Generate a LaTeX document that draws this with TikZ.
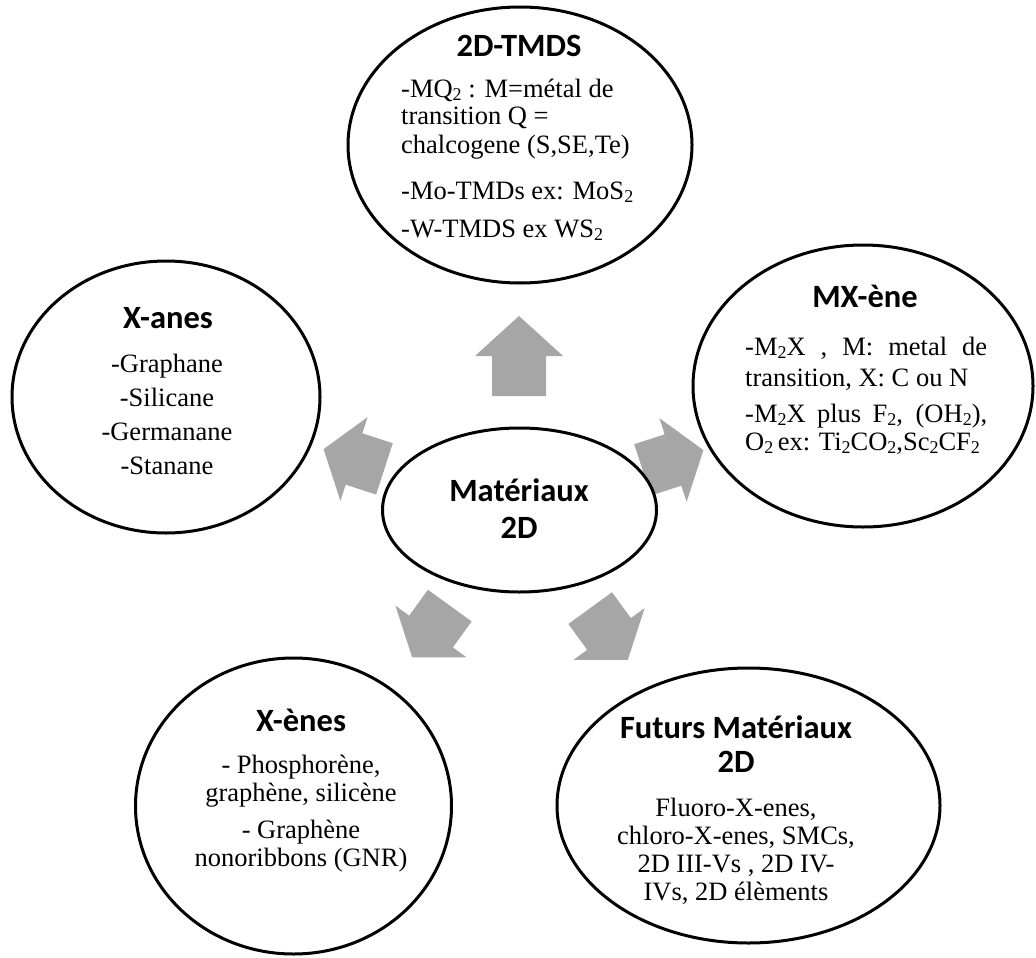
\documentclass[tikz,border=0pt]{standalone}
\usepackage{fontspec}
\setmainfont{Liberation Serif}
\newfontfamily\headfamily{Carlito}
\usetikzlibrary{shapes.geometric}
\definecolor{arrowgrey}{HTML}{A6A6A6}
\newcommand{\bodyfnt}{\fontsize{26.5}{28}\selectfont}
\newcommand{\headfnt}{\headfamily\bfseries\fontsize{32.5}{36}\selectfont}
% lowered small index, as in chemical formulas
\newcommand{\idx}[1]{\raisebox{-3.5pt}{\fontsize{18}{18}\selectfont #1}}
% block arrow: centre, angle, total length, head length
\newcommand{\blockarrow}[4]{%
  \fill[arrowgrey, shift={#1}, rotate=#2]
    (#3/2,0) -- (#3/2-#4,44) -- (#3/2-#4,27) -- (-#3/2,27)
    -- (-#3/2,-27) -- (#3/2-#4,-27) -- (#3/2-#4,-44) -- cycle;}
\newenvironment{linesl}{\begin{tabular}[t]{@{}l@{}}}{\end{tabular}}
\newenvironment{linesc}{\begin{tabular}[t]{@{}c@{}}}{\end{tabular}}
\begin{document}
\begin{tikzpicture}[x=1pt,y=-1pt,
  bubble/.style={ellipse, draw=black, line width=3pt, fill=white, inner sep=0pt},
  head/.style={font=\headfnt, inner sep=0pt, anchor=base},
  txt/.style={font=\bodyfnt, inner sep=0pt, anchor=base},
  txtl/.style={txt, anchor=base west}]
\fill[white] (0,0) rectangle (1036,958);

% arrows radiating from the hub
\blockarrow{(519,356)}{90}{80}{40}
\blockarrow{(354,459)}{162}{64}{32}
\blockarrow{(673,460)}{18}{64}{32}
\blockarrow{(431,631.5)}{234}{64}{32}
\blockarrow{(609,634)}{306}{64}{32}

% ellipses
\node[bubble, minimum width=344, minimum height=276] (tmds) at (520,145) {};
\node[bubble, minimum width=340, minimum height=282] (mxene) at (863,386) {};
\node[bubble, minimum width=308, minimum height=272] (xanes) at (166,397) {};
\node[bubble, minimum width=274, minimum height=164] (hub) at (519.5,510) {};
\node[bubble, minimum width=316, minimum height=296] (xenes) at (293.5,806) {};
\node[bubble, minimum width=383, minimum height=275] (futurs) at (748.5,805.5) {};

% 2D-TMDS
\node[head] (tmdsh) at (519,57) {2D-TMDS};
\node[txtl] (tmdsb) at (401,97) {\begin{linesl}
  -MQ\idx{2} : M=métal de\\
  transition Q =\\
  chalcogene (S,SE,Te)\\[18pt]
  -Mo-TMDs ex: MoS\idx{2}\\[10pt]
  -W-TMDS ex WS\idx{2}
\end{linesl}};

% MX-ène
\node[head] (mxh) at (865,307) {MX-ène};
\node[txtl] (mxb) at (745,355) {\begin{linesl}
  \makebox[242pt][s]{-M\idx{2}X , M: metal de}\\[3pt]
  transition, X: C ou N\\[8pt]
  \makebox[242pt][s]{-M\idx{2}X plus F\idx{2}, (OH\idx{2}),}\\
  O\idx{2}\,ex: Ti\idx{2}CO\idx{2},Sc\idx{2}CF\idx{2}
\end{linesl}};

% X-anes
\node[head] (xah) at (168,328) {X-anes};
\node[txt] (xab) at (167,372) {\begin{linesc}
  -Graphane\\[6pt]
  -Silicane\\[6pt]
  -Germanane\\[6pt]
  -Stanane
\end{linesc}};

% hub
\node[head] (hubh1) at (519,501) {Matériaux};
\node[head] (hubh2) at (519,538) {2D};

% X-ènes
\node[head] (xeh) at (301,731) {X-ènes};
\node[txt] (xeb) at (301,773) {\begin{linesc}
  - Phosphorène,\\
  graphène, silicène\\[9pt]
  - Graphène\\
  nonoribbons (GNR)
\end{linesc}};

% Futurs Matériaux 2D
\node[head] (fuh1) at (736,738) {Futurs Matériaux};
\node[head] (fuh2) at (736,772) {2D};
\node[txt] (fub) at (736,816) {\begin{linesc}
  Fluoro-X-enes,\\
  chloro-X-enes, SMCs,\\
  2D III-Vs , 2D IV-\\
  IVs, 2D élèments
\end{linesc}};
\end{tikzpicture}
\end{document}
